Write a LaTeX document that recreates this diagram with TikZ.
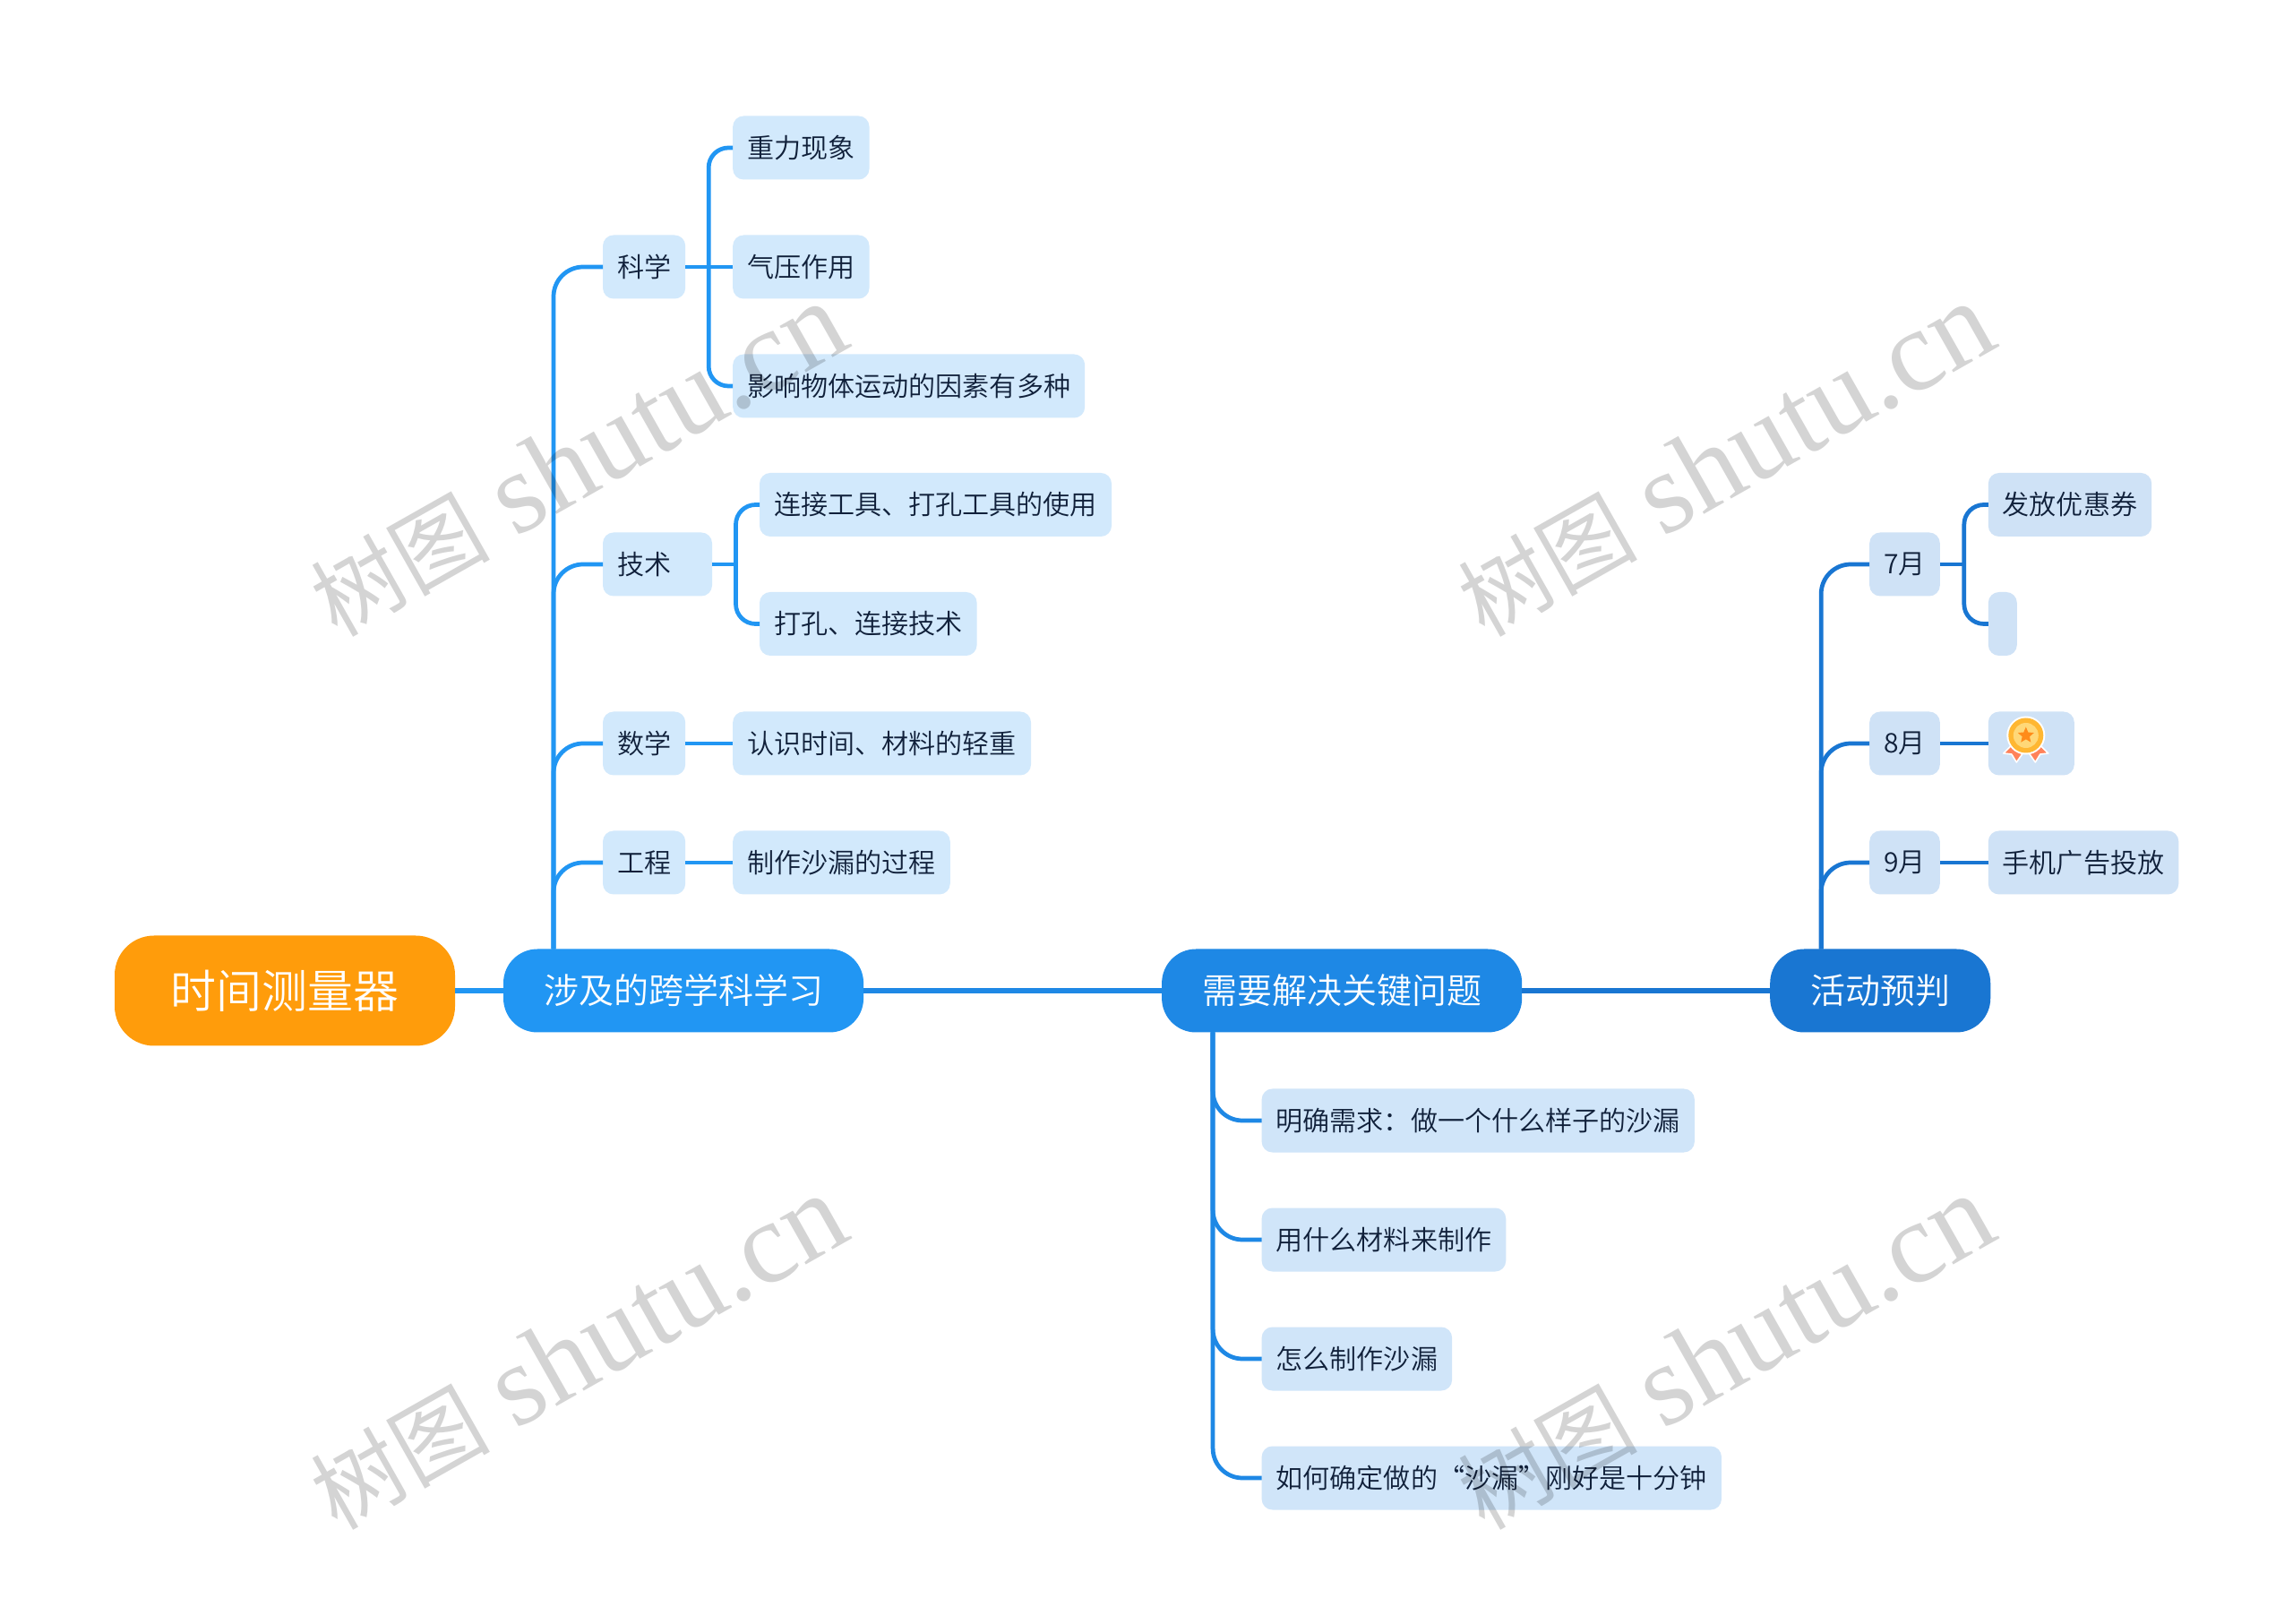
\documentclass[tikz,border=0pt]{standalone}
\usepackage{xcolor}
\usepackage{fontspec}
\setmainfont{Noto Sans CJK SC}[UprightFont=* DemiLight]
\newfontfamily\marcafont{Liberation Serif}
\newfontfamily\marcacjk{Noto Sans CJK SC}
\usepackage{tikz}
\usetikzlibrary{positioning,shapes.geometric}
\definecolor{naranja}{RGB}{255,156,11}
\definecolor{azula}{RGB}{33,150,243}
\definecolor{azulb}{RGB}{30,136,229}
\definecolor{azulc}{RGB}{25,118,210}
\definecolor{fondoa}{RGB}{210,233,252}
\definecolor{fondob}{RGB}{208,229,249}
\definecolor{fondoc}{RGB}{207,226,246}
\definecolor{textohoja}{RGB}{16,32,58}
\definecolor{cinta}{RGB}{255,130,90}
\definecolor{anillo}{RGB}{255,183,50}
\definecolor{disco}{RGB}{255,216,120}
\definecolor{estrellita}{RGB}{255,140,26}
\newcommand{\marcatexto}{{\marcacjk\fontsize{28.5pt}{30pt}\selectfont 树图} {\marcafont shutu.cn}}

\begin{document}
\begin{tikzpicture}[
  raiz/.style={fill=naranja, rounded corners=0.44cm, minimum height=1.23cm, outer sep=0pt,
               minimum width=3.8cm, inner sep=0pt, text=white,
               font=\fontsize{14.5pt}{17pt}\selectfont},
  tema/.style={rounded corners=0.38cm, minimum height=0.93cm, inner xsep=0.45cm, outer sep=0pt,
               inner ysep=0pt, text=white, font=\fontsize{11.1pt}{13pt}\selectfont},
  hoja/.style={rounded corners=0.12cm, minimum height=0.71cm, inner xsep=0.16cm, outer sep=0pt,
               inner ysep=0pt, text=textohoja, font=\fontsize{8.56pt}{10pt}\selectfont},
  ramaa/.style={draw=azula, line width=1.35pt, rounded corners=0.33cm},
  ramab/.style={draw=azulb, line width=1.35pt, rounded corners=0.33cm},
  ramac/.style={draw=azulc, line width=1.35pt, rounded corners=0.33cm},
  suba/.style={ramaa, rounded corners=0.22cm},
  subc/.style={ramac, rounded corners=0.22cm},
  tronco/.style={line width=1.7pt},
  marca/.style={rotate=29.5, text=black, text opacity=0.17, inner sep=0pt,
                font=\fontsize{36.8pt}{40pt}\selectfont}]
  \path[use as bounding box, fill=white] (0,0) rectangle (25.6,18.12);
  % centro y temas
  \node[raiz] (raiz) at (3.18,7.06) {时间测量器};
  \node[tema, fill=azula, right=0.54cm of raiz] (kuaxue) {涉及的跨学科学习};
  \node[tema, fill=azulb, right=3.33cm of kuaxue] (wenti) {需要解决关键问题};
  \node[tema, fill=azulc, right=2.77cm of wenti] (yupan) {活动预判};
  % rama izquierda
  \node[hoja, fill=fondoa, right=1.11cm of kuaxue.west, yshift=1.43cm] (gongcheng) {工程};
  \node[hoja, fill=fondoa, above=0.62cm of gongcheng.north west, anchor=south west] (shuxue) {数学};
  \node[hoja, fill=fondoa, above=1.29cm of shuxue.north west, anchor=south west,
        text width=0.9cm, align=left] (jishu) {技术};
  \node[hoja, fill=fondoa, above=2.61cm of jishu.north west, anchor=south west] (kexue) {科学};
  \node[hoja, fill=fondoa, right=0.53cm of kexue] (qiya) {气压作用};
  \node[hoja, fill=fondoa, above=0.62cm of qiya.north west, anchor=south west] (zhongli) {重力现象};
  \node[hoja, fill=fondoa, below=0.62cm of qiya.south west, anchor=north west] (yingxiang) {影响物体运动的因素有多种};
  \node[hoja, fill=fondoa, right=0.53cm of jishu, yshift=0.665cm] (lianjie) {连接工具、打孔工具的使用};
  \node[hoja, fill=fondoa, right=0.53cm of jishu, yshift=-0.665cm] (dakong) {打孔、连接技术};
  \node[hoja, fill=fondoa, right=0.53cm of shuxue] (renshi) {认识时间、材料的轻重};
  \node[hoja, fill=fondoa, right=0.53cm of gongcheng] (zhizuo) {制作沙漏的过程};
  % rama de abajo
  \node[hoja, fill=fondob, right=1.115cm of wenti.west, yshift=-1.45cm] (mingque) {明确需求：做一个什么样子的沙漏};
  \node[hoja, fill=fondob, below=0.62cm of mingque.south west, anchor=north west] (cailiao) {用什么材料来制作};
  \node[hoja, fill=fondob, below=0.62cm of cailiao.south west, anchor=north west] (zenme) {怎么制作沙漏};
  \node[hoja, fill=fondob, below=0.62cm of zenme.south west, anchor=north west] (ruhe) {如何确定做的“沙漏”刚好是十分钟};
  % rama derecha
  \node[hoja, fill=fondoc, right=1.11cm of yupan.west, yshift=1.43cm] (jiuyue) {9月};
  \node[hoja, fill=fondoc, above=0.62cm of jiuyue.north west, anchor=south west] (bayue) {8月};
  \node[hoja, fill=fondoc, above=1.29cm of bayue.north west, anchor=south west] (qiyue) {7月};
  \node[hoja, fill=fondoc, right=0.54cm of qiyue, yshift=0.665cm] (fafang) {发放优惠券};
  \node[hoja, fill=fondoc, right=0.54cm of qiyue, yshift=-0.665cm, minimum width=0.32cm] (vacio) {};
  \node[hoja, fill=fondoc, right=0.54cm of bayue, minimum width=0.96cm] (medalla) {};
  \node[hoja, fill=fondoc, right=0.54cm of jiuyue] (shouji) {手机广告投放};
  % ejes
  \coordinate[right=0.56cm of kuaxue.north west] (ejea);
  \coordinate[right=0.57cm of wenti.south west] (ejeb);
  \coordinate[right=0.57cm of yupan.north west] (ejec);
  \coordinate[right=0.26cm of kexue.east] (ejekexue);
  \coordinate[right=0.265cm of jishu.east] (ejejishu);
  \coordinate[right=0.27cm of qiyue.east] (ejeqiyue);
  % conexiones
  \draw[draw=azula, tronco] (raiz) -- (kuaxue);
  \draw[draw=azulb, tronco] (kuaxue) -- (wenti);
  \draw[draw=azulc, tronco] (wenti) -- (yupan);
  \draw[ramaa] (ejea) |- (kexue.west);
  \draw[ramaa] (ejea) |- (jishu.west);
  \draw[ramaa] (ejea) |- (shuxue.west);
  \draw[ramaa] (ejea) |- (gongcheng.west);
  \draw[suba] (kexue.east) -- (qiya.west);
  \draw[suba] (ejekexue) |- (zhongli.west);
  \draw[suba] (ejekexue) |- (yingxiang.west);
  \draw[suba] (jishu.east) -- (ejejishu);
  \draw[suba] (ejejishu) |- (lianjie.west);
  \draw[suba] (ejejishu) |- (dakong.west);
  \draw[suba] (shuxue) -- (renshi);
  \draw[suba] (gongcheng) -- (zhizuo);
  \draw[ramab] (ejeb) |- (mingque.west);
  \draw[ramab] (ejeb) |- (cailiao.west);
  \draw[ramab] (ejeb) |- (zenme.west);
  \draw[ramab] (ejeb) |- (ruhe.west);
  \draw[ramac] (ejec) |- (qiyue.west);
  \draw[ramac] (ejec) |- (bayue.west);
  \draw[ramac] (ejec) |- (jiuyue.west);
  \draw[subc] (qiyue.east) -- (ejeqiyue);
  \draw[subc] (ejeqiyue) |- (fafang.west);
  \draw[subc] (ejeqiyue) |- (vacio.west);
  \draw[subc] (bayue) -- (medalla);
  \draw[subc] (jiuyue) -- (shouji);
  % medalla
  \begin{scope}[shift={(medalla.center)}, xshift=-0.06cm, yshift=0.09cm]
    \path[fill=cinta, draw=white, line width=0.45pt, line join=round]
      (-0.13,-0.08) -- (-0.25,-0.20) -- (-0.16,-0.21) -- (-0.105,-0.30) -- (0,-0.15) -- cycle;
    \path[fill=cinta, draw=white, line width=0.45pt, line join=round]
      (0.13,-0.08) -- (0.25,-0.20) -- (0.16,-0.21) -- (0.105,-0.30) -- (0,-0.15) -- cycle;
    \fill[white] (0,0) circle (0.215);
    \fill[anillo] (0,0) circle (0.195);
    \fill[disco] (0,0) circle (0.14);
    \node[star, star points=5, star point ratio=2.2, fill=estrellita, inner sep=0pt,
          minimum size=0.19cm] (estrella) at (0,0) {};
  \end{scope}
  % marcas de agua
  \node[marca] (marcaa) at (6.45,12.98) {\marcatexto};
  \node[marca] (marcab) at (19.26,12.98) {\marcatexto};
  \node[marca] (marcac) at (6.45,3.02) {\marcatexto};
  \node[marca] (marcad) at (19.26,3.02) {\marcatexto};
\end{tikzpicture}
\end{document}
